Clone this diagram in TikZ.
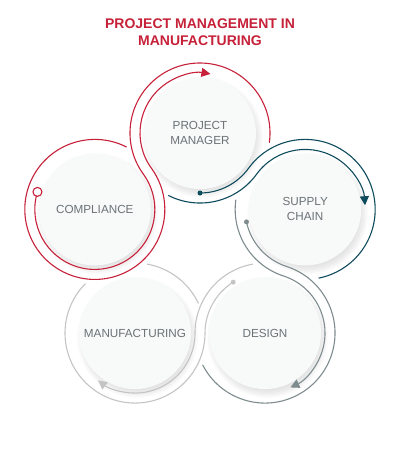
\documentclass[tikz,border=0pt]{standalone}
\usepackage{fontspec}
\newfontfamily\labfont{Liberation Sans}
\usetikzlibrary{calc,arrows.meta}
\definecolor{cred}{HTML}{C62139}
\definecolor{cteal}{HTML}{0E4B5C}
\definecolor{cdark}{HTML}{7F8C8F}
\definecolor{clight}{HTML}{C4C4C4}
\definecolor{ctext}{HTML}{6B7377}
\definecolor{cfill}{HTML}{F8F9F9}
\tikzset{
  bubble/.style={circle, fill=cfill, minimum size=112pt, inner sep=0pt, align=center,
    text=ctext, font=\labfont\fontsize{11.7}{15}\selectfont},
  ribbon/.style={line width=1.1pt},
  tip/.style={-{Triangle[length=9pt,width=9pt]}},
  titletext/.style={text=cred, font=\labfont\bfseries\fontsize{14}{17}\selectfont, anchor=base}
}
\begin{document}
\begin{tikzpicture}[x=1pt,y=1pt]
\useasboundingbox (0,0) rectangle (400,450);
\coordinate (O) at (200,206.4);
\path (O) ++(90:110.585pt) coordinate (pmc);
\path (O) ++(18:110.585pt) coordinate (scc);
\path (O) ++(162:110.585pt) coordinate (coc);
\path (O) ++(-54:110.585pt) coordinate (dec);
\path (O) ++(234:110.585pt) coordinate (mac);
% shadows
\foreach \c in {pmc,scc,coc,dec,mac}{
  \foreach \k in {1,...,8}{
    \fill[black!70,opacity=0.022] ($(\c)+(2.5,-4.5)$) circle[radius={(50+\k*1.3)*1pt}];
  }
}
% circles with labels
\node[bubble] (pm) at (pmc) {PROJECT\\MANAGER};
\node[bubble] (sc) at (scc) {SUPPLY\\CHAIN};
\node[bubble] (co) at (coc) {COMPLIANCE};
\node[bubble] (de) at (dec) {DESIGN};
\node[bubble] (ma) at (mac) {MANUFACTURING};
% red ribbon: compliance -> project manager
\draw[ribbon,cred] ($(coc)+(163:60pt)$) arc[start angle=163,end angle=396,radius=60pt]
  arc[start angle=216,end angle=-8,radius=70pt];
\draw[ribbon,cred,tip] ($(coc)+(63:70pt)$) arc[start angle=63,end angle=396,radius=70pt]
  arc[start angle=216,end angle=80,radius=60pt];
% teal ribbon: project manager -> supply chain
\draw[ribbon,cteal] ($(pmc)+(270:60pt)$) arc[start angle=270,end angle=324,radius=60pt]
  arc[start angle=144,end angle=-79,radius=70pt];
\draw[ribbon,cteal,tip] ($(pmc)+(243:70pt)$) arc[start angle=243,end angle=324,radius=70pt]
  arc[start angle=144,end angle=4,radius=60pt];
% dark grey ribbon: supply chain -> design
\draw[ribbon,cdark] ($(scc)+(192:60pt)$) arc[start angle=192,end angle=252,radius=60pt]
  arc[start angle=72,end angle=-153,radius=70pt];
\draw[ribbon,cdark,tip] ($(scc)+(172:70pt)$) arc[start angle=172,end angle=252,radius=70pt]
  arc[start angle=72,end angle=-65,radius=60pt];
% light grey ribbon: design -> manufacturing
\draw[ribbon,clight] ($(dec)+(122:60pt)$) arc[start angle=122,end angle=180,radius=60pt]
  arc[start angle=0,end angle=-225,radius=70pt];
\draw[ribbon,clight] ($(mac)+(80:70pt)$) arc[start angle=80,end angle=25,radius=70pt];
\draw[ribbon,clight,tip] ($(dec)+(100:70pt)$) arc[start angle=100,end angle=180,radius=70pt]
  arc[start angle=0,end angle=-128,radius=60pt];
% start markers
\node[circle, draw=cred, line width=1.1pt, fill=white, minimum size=9pt, inner sep=0pt] (m1) at ($(coc)+(163:60pt)$) {};
\node[circle, fill=cteal, minimum size=5pt, inner sep=0pt] (m2) at ($(pmc)+(270:60pt)$) {};
\node[circle, fill=cdark, minimum size=5pt, inner sep=0pt] (m3) at ($(scc)+(192:60pt)$) {};
\node[circle, fill=clight, minimum size=5pt, inner sep=0pt] (m4) at ($(dec)+(122:60pt)$) {};
% title
\node[titletext] (t1) at (200,421) {PROJECT MANAGEMENT IN};
\node[titletext] (t2) at (200,404) {MANUFACTURING};
\end{tikzpicture}
\end{document}
